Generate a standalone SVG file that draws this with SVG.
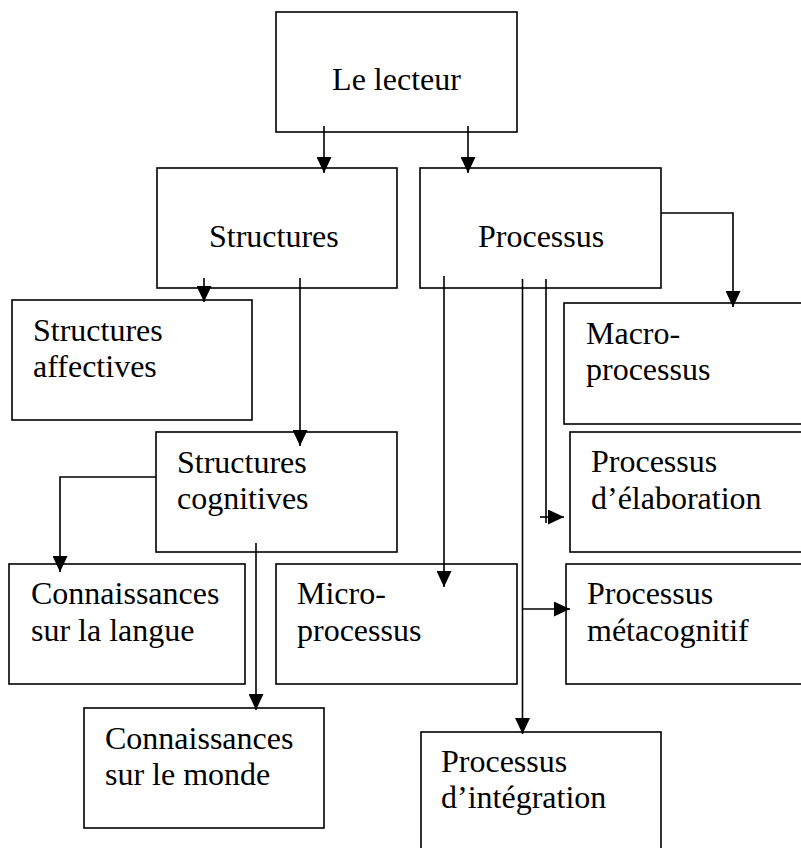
<svg xmlns="http://www.w3.org/2000/svg" width="801" height="848" viewBox="0 0 801 848">
<style>
.box{fill:#fff;stroke:#000;stroke-width:1.6}
.t{font-family:"Liberation Serif","Times New Roman",serif;font-size:32px;fill:#000}
.c{text-anchor:middle}
.ln{fill:none;stroke:#000;stroke-width:1.6}
</style>
<defs>
<marker id="ah" markerUnits="userSpaceOnUse" markerWidth="16" markerHeight="15" viewBox="0 0 16 15" refX="16" refY="7.5" orient="auto">
<path d="M0,0 L16,7.5 L0,15 Z" fill="#000"/>
</marker>
</defs>
<rect width="801" height="848" fill="#fff"/>
<g id="n-lecteur"><rect class="box" x="276" y="12" width="241" height="120"/><text class="t c" x="396.5" y="90">Le lecteur</text></g>
<g id="n-structures"><rect class="box" x="157" y="168" width="240" height="120"/><text class="t" x="209" y="247">Structures</text></g>
<g id="n-processus"><rect class="box" x="420" y="168" width="241" height="120"/><text class="t" x="478" y="247">Processus</text></g>
<g id="n-affectives"><rect class="box" x="12" y="300" width="240" height="120"/><text class="t" x="33" y="341">Structures</text><text class="t" x="33" y="377">affectives</text></g>
<g id="n-macro"><rect class="box" x="564" y="303" width="250" height="121"/><text class="t" x="586" y="344">Macro-</text><text class="t" x="586" y="380">processus</text></g>
<g id="n-cognitives"><rect class="box" x="156" y="432" width="241" height="120"/><text class="t" x="177" y="473">Structures</text><text class="t" x="177" y="509">cognitives</text></g>
<g id="n-elaboration"><rect class="box" x="570" y="432" width="244" height="120"/><text class="t" x="591" y="472">Processus</text><text class="t" x="591" y="509">d’élaboration</text></g>
<g id="n-langue"><rect class="box" x="9" y="564" width="236" height="120"/><text class="t" x="31" y="604">Connaissances</text><text class="t" x="31" y="641">sur la langue</text></g>
<g id="n-micro"><rect class="box" x="276" y="564" width="241" height="120"/><text class="t" x="297" y="604">Micro-</text><text class="t" x="297" y="641">processus</text></g>
<g id="n-meta"><rect class="box" x="566" y="564" width="248" height="120"/><text class="t" x="587" y="604">Processus</text><text class="t" x="587" y="641">métacognitif</text></g>
<g id="n-monde"><rect class="box" x="84" y="708" width="240" height="120"/><text class="t" x="105" y="749">Connaissances</text><text class="t" x="105" y="785">sur le monde</text></g>
<g id="n-integration"><rect class="box" x="421" y="732" width="240" height="130"/><text class="t" x="441" y="772">Processus</text><text class="t" x="441" y="808">d’intégration</text></g>
<g id="connectors">
<path class="ln" d="M324,126 V173" marker-end="url(#ah)"/>
<path class="ln" d="M468,126 V173" marker-end="url(#ah)"/>
<path class="ln" d="M204,278 V302" marker-end="url(#ah)"/>
<path class="ln" d="M300,278 V446" marker-end="url(#ah)"/>
<path class="ln" d="M661,213 H733 V307" marker-end="url(#ah)"/>
<path class="ln" d="M444,276 V587" marker-end="url(#ah)"/>
<path class="ln" d="M546,279 V523"/>
<path class="ln" d="M540,517 H564" marker-end="url(#ah)"/>
<path class="ln" d="M522.5,279 V734" marker-end="url(#ah)"/>
<path class="ln" d="M522.5,609 H570" marker-end="url(#ah)"/>
<path class="ln" d="M156,477 H60 V572" marker-end="url(#ah)"/>
<path class="ln" d="M256,543 V710" marker-end="url(#ah)"/>
</g>
</svg>
